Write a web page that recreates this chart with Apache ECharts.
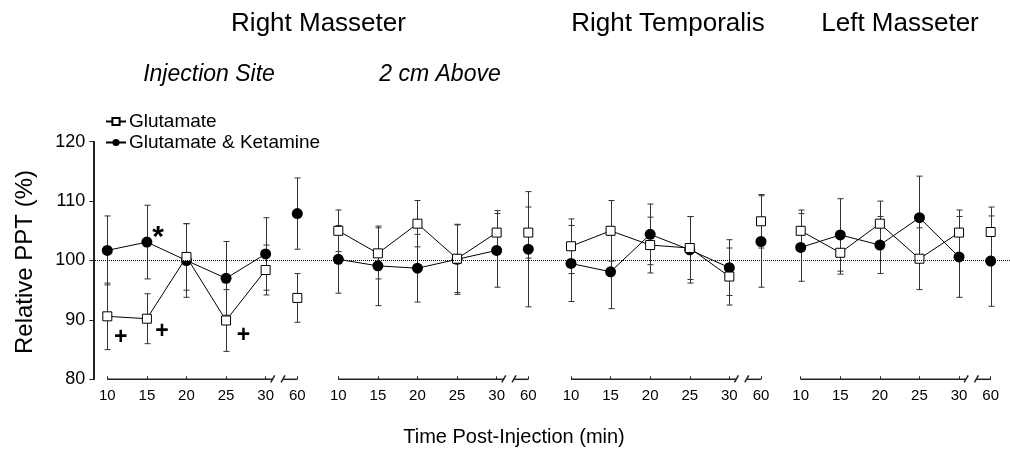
<!DOCTYPE html>
<html>
<head>
<meta charset="utf-8">
<script src="https://cdn.jsdelivr.net/npm/echarts@6/dist/echarts.min.js"></script>
<style>
html, body { margin: 0; padding: 0; background: #fff; }
#main { width: 1010px; height: 449px; }
</style>
</head>
<body>
<div id="main"></div>
<script>
// time points (min); 60 sits after an axis break
var times = [10, 15, 20, 25, 30, 60];
var yTicks = [80, 90, 100, 110, 120];

// Right Masseter - injection site
var glutInj = [90.6, 90.2, 100.6, 89.9, 98.4, 93.7];
var glutInjSd = [5.6, 4.2, 5.6, 5.2, 4.2, 4.1];
var ketInj = [101.7, 103.1, 100.0, 97.0, 101.1, 107.9];
var ketInjSd = [5.8, 6.2, 6.2, 6.2, 6.1, 6.0];

// Right Masseter - 2 cm above
var glutAbove = [105.0, 101.2, 106.2, 100.3, 104.7, 104.7];
var glutAboveSd = [3.5, 4.3, 3.9, 5.7, 3.7, 4.3];
var ketAbove = [100.2, 99.1, 98.7, 100.2, 101.7, 101.9];
var ketAboveSd = [5.7, 6.7, 5.7, 5.9, 6.2, 9.7];

// Right Temporalis
var glutTemp = [102.4, 105.0, 102.6, 102.1, 97.3, 106.6];
var glutTempSd = [4.6, 5.1, 4.7, 5.3, 4.8, 4.5];
var ketTemp = [99.5, 98.1, 104.4, 101.8, 98.8, 103.2];
var ketTempSd = [6.4, 6.2, 5.1, 5.6, 4.7, 7.7];

// Left Masseter
var glutLeft = [105.0, 101.3, 106.2, 100.3, 104.7, 104.8];
var glutLeftSd = [3.5, 3.6, 3.8, 5.2, 3.8, 4.2];
var ketLeft = [102.2, 104.3, 102.6, 107.2, 100.6, 99.9];
var ketLeftSd = [5.7, 6.1, 4.8, 7.0, 6.8, 7.6];

// significance marks (first panel)
var signTimes = [11.7, 16.9, 27.2, 16.4];
var signValues = [87.0, 88.1, 87.4, 104.6];
var signText = ['+', '+', '+', '*'];

var panels = [
  {glut: glutInj, glutSd: glutInjSd, ket: ketInj, ketSd: ketInjSd},
  {glut: glutAbove, glutSd: glutAboveSd, ket: ketAbove, ketSd: ketAboveSd},
  {glut: glutTemp, glutSd: glutTempSd, ket: ketTemp, ketSd: ketTempSd},
  {glut: glutLeft, glutSd: glutLeftSd, ket: ketLeft, ketSd: ketLeftSd}
];

// layout
var font = "'Liberation Sans', Arial, sans-serif";
var gridLefts = [107.3, 338.3, 571, 800.7];
var gridW = 190, gridTop = 141.7, gridH = 237.6;
var breakPos = 34, breakA = 30.9, breakB = 32.2;

function pos(t) { return t > 30 ? breakPos : t; }
function label(v) { return v === breakPos ? '60' : String(v); }

function lineData(vals) {
  var d = [];
  for (var i = 0; i < times.length; i++) {
    if (times[i] > 30) d.push([(30 + breakPos) / 2, '-']);
    d.push([pos(times[i]), vals[i]]);
  }
  return d;
}
function errData(vals, sd) {
  return times.map(function (t, i) { return [pos(t), vals[i], sd[i]]; });
}

function errRender(params, api) {
  var x = api.value(0), m = api.value(1), s = api.value(2);
  var t = api.coord([x, m + s]), b = api.coord([x, m - s]);
  var cx = Math.round(t[0]) + 0.5, w = 3;
  var st = {stroke: '#333', lineWidth: 1};
  return {type: 'group', children: [
    {type: 'line', shape: {x1: cx, y1: t[1], x2: cx, y2: b[1]}, style: st},
    {type: 'line', shape: {x1: cx - w, y1: t[1], x2: cx + w, y2: t[1]}, style: st},
    {type: 'line', shape: {x1: cx - w, y1: b[1], x2: cx + w, y2: b[1]}, style: st}
  ]};
}

function axisRender(params, api) {
  var a = api.coord([10, 80]), b = api.coord([breakA, 80]);
  var c = api.coord([breakB, 80]), d = api.coord([breakPos, 80]);
  var st = {stroke: '#222', lineWidth: 1.5};
  return {type: 'group', children: [
    {type: 'line', shape: {x1: a[0], y1: a[1], x2: b[0], y2: b[1]}, style: st},
    {type: 'line', shape: {x1: b[0] - 2, y1: b[1] + 3, x2: b[0] + 2, y2: b[1] - 4}, style: st},
    {type: 'line', shape: {x1: c[0] - 2, y1: c[1] + 3, x2: c[0] + 2, y2: c[1] - 4}, style: st},
    {type: 'line', shape: {x1: c[0], y1: c[1], x2: d[0], y2: d[1]}, style: st}
  ]};
}

function signRender(params, api) {
  var p = api.coord([api.value(0), api.value(1)]);
  var s = signText[params.dataIndex];
  var star = s === '*';
  return {type: 'text', x: p[0], y: p[1] + (star ? 5 : 0), silent: true,
    style: {text: s, fill: '#000', font: 'bold ' + (star ? 30 : 23) + 'px ' + font,
      textAlign: 'center', textVerticalAlign: 'middle'}};
}

var grid = [], xAxis = [], yAxis = [], series = [];
panels.forEach(function (p, k) {
  grid.push({left: gridLefts[k], width: gridW, top: gridTop, height: gridH});
  xAxis.push({
    type: 'value', gridIndex: k, min: 10, max: breakPos,
    axisLine: {show: false}, splitLine: {show: false},
    axisTick: {show: true, inside: true, length: 3, customValues: times.map(pos),
      lineStyle: {color: '#222', width: 1}},
    axisLabel: {customValues: times.map(pos), formatter: label, fontSize: 15, color: '#000',
      fontFamily: font, margin: 9}
  });
  yAxis.push({
    type: 'value', gridIndex: k, min: 80, max: 120, interval: 10, show: k === 0,
    offset: 14, splitLine: {show: false},
    axisLine: {show: true, lineStyle: {color: '#222', width: 2}},
    axisTick: {show: true, length: 4, lineStyle: {color: '#222'}},
    axisLabel: {fontSize: 18, color: '#000', fontFamily: font, margin: 8}
  });
  series.push({type: 'custom', xAxisIndex: k, yAxisIndex: k, renderItem: axisRender,
    data: [[10, 80]], silent: true, z: 1});
  series.push({type: 'custom', xAxisIndex: k, yAxisIndex: k, renderItem: errRender,
    data: errData(p.ket, p.ketSd), silent: true, z: 2});
  series.push({type: 'custom', xAxisIndex: k, yAxisIndex: k, renderItem: errRender,
    data: errData(p.glut, p.glutSd), silent: true, z: 2});
  series.push({
    name: 'Glutamate & Ketamine', type: 'line', xAxisIndex: k, yAxisIndex: k,
    data: lineData(p.ket), symbol: 'circle', symbolSize: 11, connectNulls: false,
    lineStyle: {color: '#000', width: 1}, itemStyle: {color: '#000'}, z: 3
  });
  series.push({
    name: 'Glutamate', type: 'line', xAxisIndex: k, yAxisIndex: k,
    data: lineData(p.glut), symbol: 'rect', symbolSize: 9, connectNulls: false,
    lineStyle: {color: '#000', width: 1},
    itemStyle: {color: '#fff', borderColor: '#000', borderWidth: 1}, z: 4
  });
});

// full-width grid for the 100% reference line
grid.push({left: 95, right: 0, top: gridTop, height: gridH});
xAxis.push({type: 'value', gridIndex: 4, min: 0, max: 1, show: false});
yAxis.push({type: 'value', gridIndex: 4, min: 80, max: 120, show: false});
series.push({
  type: 'line', xAxisIndex: 4, yAxisIndex: 4, data: [], z: 1,
  markLine: {silent: true, symbol: 'none', label: {show: false},
    lineStyle: {type: 'dotted', color: '#000', width: 1},
    data: [{yAxis: 100}]}
});

// significance marks
series.push({
  type: 'custom', xAxisIndex: 0, yAxisIndex: 0, renderItem: signRender, z: 5, silent: true,
  data: signTimes.map(function (t, i) { return [t, signValues[i]]; })
});

function txt(s, x, y, size, italic, rot) {
  return {type: 'text', x: x, y: y, rotation: rot || 0, silent: true,
    style: {text: s, fill: '#000', font: (italic ? 'italic ' : '') + size + 'px ' + font,
      textAlign: 'center', textVerticalAlign: 'middle'}};
}

var myChart = echarts.init(document.getElementById('main'));
var option = {
  animation: false,
  textStyle: {fontFamily: font},
  grid: grid, xAxis: xAxis, yAxis: yAxis, series: series,
  legend: {
    orient: 'vertical', left: 100, top: 107, itemWidth: 20, itemHeight: 9, itemGap: 2,
    data: ['Glutamate', 'Glutamate & Ketamine'],
    textStyle: {fontSize: 19, color: '#000', fontFamily: font, padding: [0, 0, 0, -2]}
  },
  graphic: [
    txt('Right Masseter', 318.5, 24, 26),
    txt('Right Temporalis', 668, 24, 26),
    txt('Left Masseter', 900, 24, 26),
    txt('Injection Site', 209, 75, 23, true),
    txt('2 cm Above', 440, 75, 23, true),
    txt('Relative PPT (%)', 25, 262, 24, false, Math.PI / 2),
    txt('Time Post-Injection (min)', 514, 437, 20)
  ]
};
myChart.setOption(option);
</script>
</body>
</html>
